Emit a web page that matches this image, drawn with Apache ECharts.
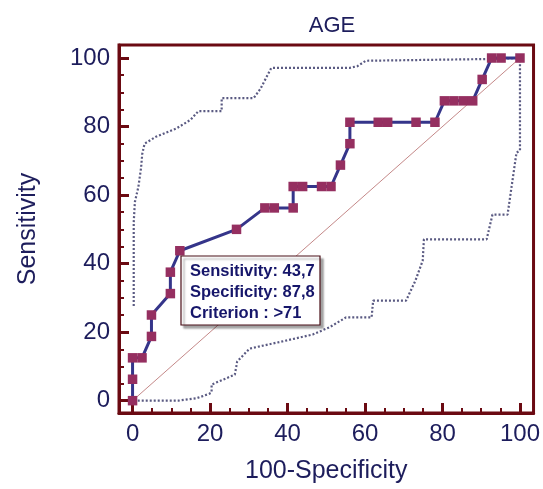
<!DOCTYPE html>
<html><head><meta charset="utf-8">
<script src="https://cdn.jsdelivr.net/npm/echarts@6/dist/echarts.min.js"></script>
<style>html,body{margin:0;padding:0;background:#fff}#c{width:543px;height:489px}</style>
</head><body><div id="c"></div>
<script>
// ROC curve points (100-Specificity, Sensitivity)
var rocX = [0,0,0,2.44,4.88,4.88,9.76,9.76,12.2,26.83,34.15,36.59,41.46,41.46,43.9,48.78,51.22,53.66,56.1,56.1,63.41,65.85,73.17,78.05,80.49,82.93,85.37,87.8,90.24,92.68,95.12,100];
var rocY = [0,6.25,12.5,12.5,18.75,25,31.25,37.5,43.75,50,56.25,56.25,56.25,62.5,62.5,62.5,62.5,68.75,75,81.25,81.25,81.25,81.25,81.25,87.5,87.5,87.5,87.5,93.75,100,100,100];
// Upper confidence bound
var upX = [0.3,0.3,0.6,1.5,2.2,2.5,3.1,6,11.4,15,17,23,23,31.25,33,35.8,55.9,58,60.2,91.2,100];
var upY = [27.6,52,58,62.4,68,72,75,77,79.5,82,84.5,84.5,88.3,88.3,91,97.1,97.1,97.6,99.2,99.7,100];
// Lower confidence bound
var loX = [0.3,11.8,16.5,19.8,20.4,20.4,26.4,27,30.2,37.9,46.5,50.8,55.1,61.7,62.1,70.6,73,74.9,75.2,91.4,92.9,96.8,99.1,100,100];
var loY = [0,0,0.7,2,2.4,4.7,7.6,11.4,15.2,17.1,19.3,21.4,24.3,24.3,29.2,29.2,35,40.9,47.1,47.1,54.3,54.3,72.4,73,100];
// Reference diagonal
var diagX = [0,100];
var diagY = [0,100];
// Ticks
var majorTicks = [0,20,40,60,80,100];
var minorTicks = [5,10,15,25,30,35,45,50,55,65,70,75,85,90,95];
var annotation = ['Sensitivity: 43,7','Specificity: 87,8','Criterion : >71'];

function zip(a,b){return a.map(function(v,i){return [v,b[i]];});}

var frame = '#6b0a12';
var txt = '#1d1d5c';
var font = 'Liberation Sans, Arial, sans-serif';

function mkAxis(isX, minor){
  var a = {
    type:'value', gridIndex:0,
    min: isX ? -3.5 : -3.6, max: isX ? 103.5 : 103.8,
    position: isX ? 'bottom' : 'left',
    splitLine:{show:false},
    axisLine:{show:!minor, onZero:false, lineStyle:{color:frame, width:3}},
    axisTick:{show:true, inside:true, customValues: minor ? minorTicks : majorTicks,
      length: minor ? 5 : 10, lineStyle:{color:frame, width: minor ? 2 : 3}},
    axisLabel:{show:!minor, customValues: majorTicks, color:txt, fontSize:24, fontFamily:font, margin: 9}
  };
  if(!minor){
    a.name = isX ? '100-Specificity' : 'Sensitivity';
    a.nameLocation = 'middle';
    a.nameGap = isX ? 46 : 78;
    a.nameTextStyle = {color:txt, fontSize:25, fontFamily:font};
  }
  return a;
}

var chart = echarts.init(document.getElementById('c'), null, {renderer:'canvas'});
chart.setOption({
  animation:false,
  backgroundColor:'#fff',
  title:{text:'AGE', left:327, top:10, textAlign:'center',
    textStyle:{color:txt, fontSize:22, fontWeight:'normal', fontFamily:font}},
  grid:{left:119, right:8, top:45, bottom:68, show:true, borderColor:frame, borderWidth:3},
  xAxis:[mkAxis(true,false), mkAxis(true,true)],
  yAxis:[mkAxis(false,false), mkAxis(false,true)],
  series:[
    {type:'line', data:zip(diagX,diagY), xAxisIndex:0, yAxisIndex:0, symbol:'none',
      lineStyle:{color:'#b56a6a', width:0.8}, z:2},
    {type:'line', data:zip(upX,upY), xAxisIndex:0, yAxisIndex:0, symbol:'none',
      lineStyle:{color:'#5a5a82', width:2.2, type:[2,2]}, z:3},
    {type:'line', data:zip(loX,loY), xAxisIndex:0, yAxisIndex:0, symbol:'none',
      lineStyle:{color:'#5a5a82', width:2.2, type:[2,2]}, z:3},
    {type:'line', data:zip(rocX,rocY), xAxisIndex:0, yAxisIndex:0, symbol:'rect', symbolSize:[9.5,9.5],
      showAllSymbol:true,
      lineStyle:{color:'#35358a', width:3}, itemStyle:{color:'#952f60', borderWidth:0}, z:5}
  ],
  graphic:[
    {type:'rect', z:100, shape:{x:181, y:256, width:139, height:69},
      style:{fill:'#fff', stroke:'#4a1018', lineWidth:1.2, shadowColor:'rgba(0,0,0,0.35)', shadowOffsetX:3, shadowOffsetY:3, shadowBlur:2}},
    {type:'text', z:101, left:190, top:261,
      style:{text:annotation.join('\n'), fill:'#16166a', font:'bold 16.5px Liberation Sans, Arial, sans-serif', lineHeight:21}}
  ]
});
</script></body></html>
